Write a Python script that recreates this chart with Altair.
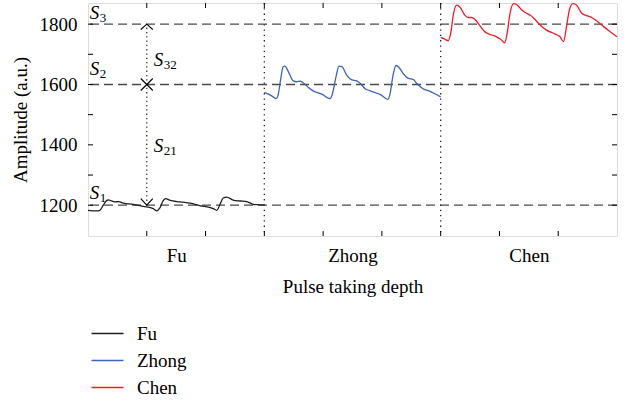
import altair as alt
import pandas as pd

FONT = "Liberation Serif"

# ---- waveform data ----
fu_t = [0.0, 0.15, 0.2, 0.26, 0.32, 0.35, 0.4, 0.46, 0.52, 0.6, 0.77, 0.94, 1.11, 1.17,
        1.22, 1.28, 1.32, 1.4, 1.51, 1.62, 1.74, 1.9, 2.13, 2.19, 2.25, 2.3, 2.36, 2.47,
        2.59, 2.7, 2.81, 2.93, 3.0]
fu_amp = [1183, 1181, 1183, 1200, 1216, 1218, 1214, 1211, 1212, 1207, 1203, 1196, 1189, 1181,
          1190, 1215, 1222, 1216, 1212, 1210, 1207, 1199, 1189, 1183, 1205, 1224, 1227, 1217,
          1214, 1212, 1203, 1201, 1201]

zhong_t = [3.0, 3.07, 3.15, 3.2, 3.24, 3.28, 3.32, 3.35, 3.41, 3.49, 3.55, 3.61, 3.66, 3.75,
           3.83, 3.98, 4.12, 4.16, 4.22, 4.27, 4.32, 4.4, 4.49, 4.57, 4.63, 4.71, 4.8, 4.97,
           5.1, 5.14, 5.19, 5.24, 5.28, 5.36, 5.45, 5.53, 5.59, 5.7, 5.82, 6.0]
zhong_amp = [1573, 1568, 1559, 1553, 1570, 1620, 1659, 1661, 1642, 1612, 1609, 1611, 1606, 1590,
             1579, 1568, 1553, 1570, 1626, 1661, 1659, 1631, 1615, 1612, 1604, 1587, 1579, 1567,
             1551, 1570, 1631, 1663, 1659, 1637, 1620, 1617, 1604, 1586, 1577, 1559]

chen_t = [6.0, 6.07, 6.13, 6.17, 6.22, 6.27, 6.33, 6.41, 6.47, 6.53, 6.58, 6.67, 6.75, 6.87,
          6.95, 7.02, 7.09, 7.13, 7.18, 7.24, 7.29, 7.38, 7.46, 7.52, 7.6, 7.69, 7.8, 7.95,
          8.03, 8.09, 8.14, 8.19, 8.25, 8.31, 8.4, 8.48, 8.57, 8.65, 8.74, 8.85, 9.0]
chen_amp = [1756, 1750, 1745, 1769, 1836, 1863, 1856, 1830, 1822, 1822, 1816, 1794, 1775, 1764,
            1758, 1750, 1738, 1769, 1836, 1868, 1865, 1847, 1836, 1830, 1816, 1797, 1780, 1767,
            1758, 1742, 1791, 1847, 1868, 1863, 1836, 1828, 1822, 1811, 1797, 1780, 1758]

depth_names = ["Fu", "Zhong", "Chen"]
depth_centers = [1.5, 4.5, 7.5]
depth_colors = ["#1e1e1e", "#3f62b5", "#ee1c25"]

level_values = [1200, 1600, 1800]
boundary_values = [3, 6]
x_tick_values = [1, 2, 3, 4, 5, 6, 7, 8]
y_tick_values = [1200, 1300, 1400, 1500, 1600, 1700, 1800]
y_label_values = [1200, 1400, 1600, 1800]

s_subs = ["1", "2", "3", "32", "21"]
s_x = [0.03, 0.03, 0.03, 1.12, 1.12]
s_y = [1221, 1631, 1818, 1661, 1377]

span_x = [1]
span_from = [1200]
span_to = [1800]
marker_kind = ["top", "mid", "bottom"]
marker_y = [1800, 1600, 1200]

W, H = 529, 233

# ---- tables ----
wave = pd.concat([
    pd.DataFrame({"depth": "Fu", "t": fu_t, "amp": fu_amp}),
    pd.DataFrame({"depth": "Zhong", "t": zhong_t, "amp": zhong_amp}),
    pd.DataFrame({"depth": "Chen", "t": chen_t, "amp": chen_amp}),
], ignore_index=True)

label_expr = " : ".join(
    f"datum.value == {c} ? '{n}'" for c, n in zip(depth_centers, depth_names)
) + " : ''"

xscale = alt.Scale(domain=[0, 9], nice=False, zero=False)
yscale = alt.Scale(domain=[1098, 1870], nice=False, zero=False)

xaxis = alt.Axis(values=depth_centers, labelExpr=label_expr, ticks=False, tickSize=0,
                 domain=False, grid=False, labelPadding=25, labelBaseline="alphabetic",
                 labelFontSize=19, labelFont=FONT, labelColor="black",
                 title="Pulse taking depth", titleFontSize=19, titleFont=FONT,
                 titleFontWeight="normal", titleColor="black", titleBaseline="alphabetic",
                 titleY=56)
yaxis = alt.Axis(values=y_label_values, format="d", ticks=False, tickSize=0, domain=False,
                 grid=False, labelPadding=11, labelFontSize=19, labelFont=FONT,
                 labelColor="black",
                 title="Amplitude (a.u.)", titleFontSize=19, titleFont=FONT,
                 titleFontWeight="normal", titleColor="black", titleBaseline="middle",
                 titleX=-68, titleY=H / 2)


def X(f):
    return alt.X(f"{f}:Q", scale=xscale, axis=xaxis)


def Y(f):
    return alt.Y(f"{f}:Q", scale=yscale, axis=yaxis)


hlines = alt.Chart(pd.DataFrame({"level": level_values})).mark_rule(
    color="#4a4a4a", strokeDash=[9, 5], strokeWidth=1.3
).encode(y=Y("level"))

vlines = alt.Chart(pd.DataFrame({"b": boundary_values})).mark_rule(
    color="#222222", strokeDash=[1.3, 4], strokeWidth=1.3
).encode(x=X("b"))

span = alt.Chart(pd.DataFrame({"x": span_x, "y1": span_from, "y2": span_to})).mark_rule(
    color="#222222", strokeDash=[1.3, 3], strokeWidth=1.2
).encode(x=X("x"), y=Y("y1"), y2="y2:Q")

markers = alt.Chart(pd.DataFrame({"x": span_x * 3, "y": marker_y, "kind": marker_kind})).mark_point(
    filled=False, color="black", strokeWidth=1.1, size=144, opacity=1
).encode(
    x=X("x"), y=Y("y"),
    shape=alt.Shape("kind:N", legend=None, scale=alt.Scale(
        domain=["top", "mid", "bottom"],
        range=["M-1,0.9L0,0L1,0.9", "M-1,-1L1,1M-1,1L1,-1", "M-1,-1.1L0,0L1,-1.1"])),
)

lines = alt.Chart(wave).mark_line(strokeWidth=1.3, interpolate="monotone").encode(
    x=X("t"), y=Y("amp"),
    color=alt.Color("depth:N", scale=alt.Scale(domain=depth_names, range=depth_colors),
                    legend=alt.Legend(title=None, orient="none", legendX=10, legendY=321,
                                      symbolType="M-2,0H2", symbolSize=256,
                                      symbolStrokeWidth=1.3, symbolFillColor="transparent",
                                      labelFontSize=19,
                                      labelFont=FONT, labelColor="black", labelOffset=20,
                                      rowPadding=7, padding=0, direction="vertical")),
    order="t:Q",
)

sdf = pd.DataFrame({"x": s_x, "y": s_y, "sub": s_subs, "base": ["S"] * len(s_subs)})
s_text = alt.Chart(sdf).mark_text(font=FONT, fontStyle="italic", fontSize=19, align="left",
                                  baseline="alphabetic", color="black").encode(
    x=X("x"), y=Y("y"), text="base:N")
s_sub = alt.Chart(sdf).mark_text(font=FONT, fontSize=13, align="left", baseline="alphabetic",
                                 color="black", dx=10, dy=3).encode(
    x=X("x"), y=Y("y"), text="sub:N")

xt = pd.DataFrame({"t": x_tick_values})
yt = pd.DataFrame({"v": y_tick_values})
tick_bottom = alt.Chart(xt).mark_rule(color="black", strokeWidth=1).encode(
    x=X("t"), y=alt.value(H), y2=alt.value(H - 5))
tick_top = alt.Chart(xt).mark_rule(color="black", strokeWidth=1).encode(
    x=X("t"), y=alt.value(0), y2=alt.value(5))
tick_left = alt.Chart(yt).mark_rule(color="black", strokeWidth=1).encode(
    y=Y("v"), x=alt.value(0), x2=alt.value(5))
tick_right = alt.Chart(yt).mark_rule(color="black", strokeWidth=1).encode(
    y=Y("v"), x=alt.value(W), x2=alt.value(W - 5))

chart = alt.layer(
    hlines, vlines, span, markers, tick_bottom, tick_top, tick_left, tick_right,
    lines, s_text, s_sub,
).properties(
    width=W, height=H, autosize="none",
    padding={"left": 88, "top": 3, "right": 13, "bottom": 166},
).configure_view(stroke="black", strokeWidth=1.3).configure(background="white")

chart.save("out.html", embed_options={"renderer": "svg", "actions": False})
